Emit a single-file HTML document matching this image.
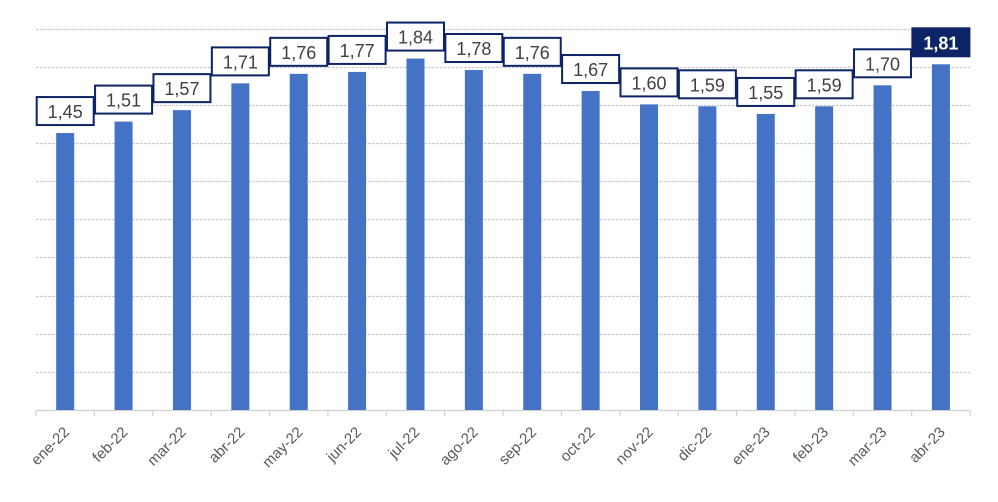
<!DOCTYPE html>
<html><head><style>body{margin:0;background:#fff}</style></head><body>
<svg width="998" height="497" xmlns="http://www.w3.org/2000/svg" font-family="Liberation Sans, sans-serif">
<g stroke="#d0d0d0" stroke-width="1.2" stroke-dasharray="3,1">
<line x1="36" x2="970" y1="29.5" y2="29.5"/><line x1="36" x2="970" y1="67.5" y2="67.5"/><line x1="36" x2="970" y1="105.5" y2="105.5"/><line x1="36" x2="970" y1="143.5" y2="143.5"/><line x1="36" x2="970" y1="181.5" y2="181.5"/><line x1="36" x2="970" y1="219.5" y2="219.5"/><line x1="36" x2="970" y1="257.5" y2="257.5"/><line x1="36" x2="970" y1="296.5" y2="296.5"/><line x1="36" x2="970" y1="334.5" y2="334.5"/><line x1="36" x2="970" y1="372.5" y2="372.5"/>
</g>
<line x1="36" x2="970" y1="410.5" y2="410.5" stroke="#d0d0d0" stroke-width="1.2"/>
<g id="c"></g>
</svg>
<script>
(function(){
var v=[1.45,1.51,1.57,1.71,1.76,1.77,1.84,1.78,1.76,1.67,1.60,1.59,1.55,1.59,1.70,1.81];
var l=["ene-22","feb-22","mar-22","abr-22","may-22","jun-22","jul-22","ago-22","sep-22","oct-22","nov-22","dic-22","ene-23","feb-23","mar-23","abr-23"];
var s="";
for(var i=0;i<=16;i++){var x=36+i*58.38;s+='<line x1="'+x+'" x2="'+x+'" y1="410" y2="416" stroke="#d0d0d0" stroke-width="1.2"/>';}
for(var i=0;i<16;i++){var c=65.2+i*58.38,ty=410-v[i]*191;
s+='<rect x="'+(c-9)+'" y="'+ty+'" width="18" height="'+(410-ty)+'" fill="#4472c4"/>';
var last=i==15,by=ty-36;
s+='<rect x="'+(c-28.5)+'" y="'+by+'" width="57" height="28" fill="'+(last?'#0c2366':'#fff')+'" stroke="#0c2366" stroke-width="2"/>';
s+='<text x="'+c+'" y="'+(by+21)+'" text-anchor="middle" font-size="18" '+(last?'fill="#fff" font-weight="bold"':'fill="#404040"')+'>'+v[i].toFixed(2).replace(".",",")+'</text>';
s+='<text transform="translate('+(c+5)+',433) rotate(-45)" text-anchor="end" font-size="15" fill="#595959">'+l[i]+'</text>';}
document.getElementById("c").innerHTML=s;
})();
</script>
</body></html>
